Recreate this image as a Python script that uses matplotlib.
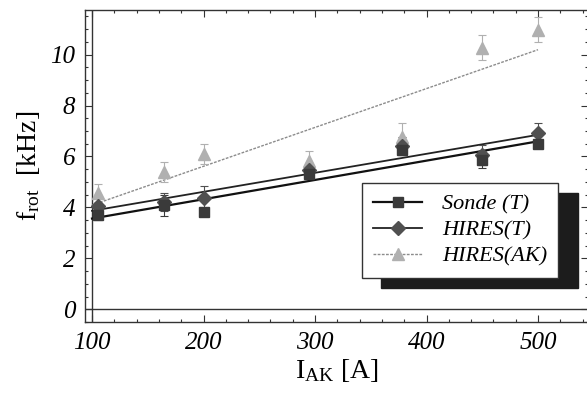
import matplotlib.pyplot as plt
import numpy as np
from matplotlib.lines import Line2D
from matplotlib.ticker import MultipleLocator

# Data
current = [105, 165, 200, 295, 378, 450, 500]
sonde_t = [3.7, 4.08, 3.8, 5.3, 6.25, 5.88, 6.48]
sonde_err = [0.2, 0.4, 0.0, 0.15, 0.2, 0.35, 0.15]
hires_t = [4.05, 4.2, 4.38, 5.45, 6.4, 6.05, 6.92]
hires_t_err = [0.3, 0.35, 0.45, 0.3, 0.35, 0.4, 0.4]
hires_ak = [4.55, 5.4, 6.1, 5.82, 6.75, 10.27, 10.98]
hires_ak_err = [0.35, 0.4, 0.4, 0.4, 0.55, 0.5, 0.5]
labels = ['Sonde (T)', 'HIRES(T)', 'HIRES(AK)']

plt.rcParams['font.family'] = 'Liberation Serif'
plt.rcParams['mathtext.fontset'] = 'custom'
plt.rcParams['mathtext.rm'] = 'Liberation Serif'

fig = plt.figure(figsize=(5.87, 3.95), dpi=100)
ax = fig.add_axes([85 / 587, 73 / 395, 1 - 85 / 587 + 0.002, 312 / 395])

x = np.array(current)
xfit = np.array([100, 500])

series = [
    (sonde_t, sonde_err, 's', '#3a3a3a', '#111111', '-', 1.6, 7.5),
    (hires_t, hires_t_err, 'D', '#505050', '#222222', '-', 1.3, 7),
    (hires_ak, hires_ak_err, '^', '#b0b0b0', '#8c8c8c', (0, (2, 1)), 1.0, 9),
]
handles = []
for y, err, mk, mc, lc, ls, lw, ms in reversed(series):
    y = np.array(y)
    k, b = np.polyfit(x, y, 1)
    ax.plot(xfit, k * xfit + b, color=lc, ls=ls, lw=lw, zorder=2)
    ax.errorbar(x, y, yerr=err, fmt=mk, color=mc, ms=ms, ecolor=mc,
                elinewidth=0.8, capsize=3, capthick=0.8, zorder=3)
for y, err, mk, mc, lc, ls, lw, ms in series:
    handles.append(Line2D([], [], color=lc, ls=ls, lw=lw, marker=mk,
                          mfc=mc, mec=mc, ms=ms))

# Mathematica-style axes lines inside the frame
ax.axhline(0, color='#333333', lw=1.0, zorder=1)
ax.axvline(100, color='#333333', lw=1.0, zorder=1)

ax.set_xlim(93.7, 545)
ax.set_ylim(-0.5, 11.75)
ax.xaxis.set_major_locator(MultipleLocator(100))
ax.xaxis.set_minor_locator(MultipleLocator(20))
ax.yaxis.set_major_locator(MultipleLocator(2))
ax.yaxis.set_minor_locator(MultipleLocator(0.5))
ax.tick_params(which='both', direction='in', top=True, right=True,
               labelsize=18, color='#333333', width=0.8)
ax.tick_params(which='major', length=5, pad=7)
ax.tick_params(which='minor', length=2.5)
for lab in ax.get_xticklabels() + ax.get_yticklabels():
    lab.set_fontstyle('italic')
for s in ax.spines.values():
    s.set_color('#333333')
    s.set_linewidth(1.0)

ax.set_xlabel(r'$\mathregular{I_{AK}}$ [A]', fontsize=20, labelpad=2)
ax.set_ylabel(r'$\mathregular{f_{rot}}$  [kHz]', fontsize=20, labelpad=6)

leg = ax.legend(handles, labels, loc='upper left',
                bbox_to_anchor=(362 / 587, 1 - 183 / 395),
                bbox_transform=fig.transFigure, borderaxespad=0,
                prop={'family': 'Liberation Serif', 'style': 'italic', 'size': 16},
                handlelength=2.2, handletextpad=0.9, labelspacing=0.25,
                borderpad=0.5, fancybox=False, framealpha=1,
                edgecolor='#333333',
                shadow={'ox': 14, 'oy': -7, 'facecolor': '#1c1c1c',
                        'edgecolor': '#1c1c1c', 'alpha': 1})
leg.get_frame().set_linewidth(1.0)

fig.savefig('out.png', dpi=100)
